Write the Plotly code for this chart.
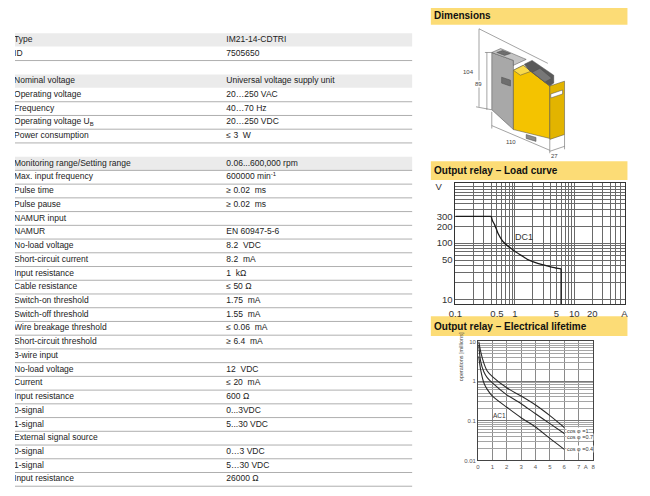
import math
import plotly.graph_objects as go

W, H = 650, 496
OFF = 8  # the page body margin shifts the figure by this many pixels
FONT = "Liberation Sans"

# ---- spec table ----
spec_labels = [
    "Type", "ID", "",
    "Nominal voltage", "Operating voltage", "Frequency",
    "Operating voltage U<sub>B</sub>", "Power consumption", "",
    "Monitoring range/Setting range", "Max. input frequency", "Pulse time", "Pulse pause",
    "NAMUR input", "NAMUR", "No-load voltage", "Short-circuit current", "Input resistance",
    "Cable resistance", "Switch-on threshold", "Switch-off threshold",
    "Wire breakage threshold", "Short-circuit threshold", "3-wire input",
    "No-load voltage", "Current", "Input resistance", "0-signal", "1-signal",
    "External signal source", "0-signal", "1-signal", "Input resistance",
]
spec_values = [
    "IM21-14-CDTRI", "7505650", "",
    "Universal voltage supply unit", "20…250 VAC", "40…70 Hz",
    "20…250 VDC", "≤ 3\u00a0 W", "",
    "0.06...600,000 rpm", "600000 min<sup>-1</sup>", "≥ 0.02\u00a0 ms", "≥ 0.02\u00a0 ms",
    "", "EN 60947-5-6", "8.2\u00a0 VDC", "8.2\u00a0 mA", "1\u00a0 kΩ",
    "≤ 50 Ω", "1.75\u00a0 mA", "1.55\u00a0 mA",
    "≤ 0.06\u00a0 mA", "≥ 6.4\u00a0 mA", "",
    "12\u00a0 VDC", "≤ 20\u00a0 mA", "600 Ω", "0...3VDC", "5...30 VDC",
    "", "0…3 VDC", "5…30 VDC", "26000 Ω",
]
shaded_rows = [0, 3, 9]
ruled_rows = [1, 4, 5, 6, 7] + list(range(9, 33))

# ---- output relay: load curve (DC1) ----
load_current = [0.1, 0.4, 0.42, 0.46, 0.52, 0.63, 0.8, 1.0, 1.3, 1.65, 2.0, 3.0, 4.0, 5.0, 6.0, 6.0]
load_voltage = [300, 300, 250, 209, 150, 107, 85, 72, 60, 51, 47, 41, 38, 36, 35, 8]
load_x_ticks = [0.1, 0.5, 1, 5, 10, 20, 70]
load_x_text = ["0.1", "0.5", "1", "5", "10", "20", "A"]
load_y_ticks = [10, 50, 100, 200, 300, 1000]
load_y_text = ["10", "50", "100", "200", "300", "V\u00a0\u00a0\u00a0\u00a0"]

# ---- output relay: electrical lifetime ----
life_current = [0.05, 0.18, 0.41, 0.64, 1, 2, 3, 4, 5, 6]
life_ops_cos1 = [10, 5.6, 2.8, 1.8, 1.3, 0.68, 0.42, 0.25, 0.135, 0.068]
life_ops_cos07 = [8.2, 3.2, 1.7, 1.23, 0.9, 0.45, 0.27, 0.15, 0.085, 0.048]
life_ops_cos04 = [4.2, 1.95, 0.9, 0.62, 0.42, 0.22, 0.12, 0.07, 0.036, 0.019]
life_labels = ["cos φ =1", "cos φ =0.7", "cos φ =0.4"]
life_label_y = [0.055, 0.040, 0.0195]
life_x_ticks = [0, 1, 2, 3, 4, 5, 6, 7, 7.5, 8]
life_x_text = ["0", "1", "2", "3", "4", "5", "6", "7", "A", "8"]
life_y_ticks = [0.01, 0.1, 1, 10]
life_y_text = ["0.01", "0.1", "1", "10"]

# ---- dimensions drawing labels ----
dim_labels = ["104", "89", "110", "27"]


def pxx(x):
    return (x - OFF) / W


def pxy(y):
    return 1 - (y - OFF) / H


def log_grid(lo, hi):
    vals = [d * 10 ** e for e in range(-3, 4) for d in range(1, 10)]
    return [v for v in vals if lo * 0.999 <= v <= hi * 1.001]


fig = go.Figure()

# table (x in screen px, y in row index)
row_pitch = 13.9
first_row = 37.3
fig.add_trace(go.Bar(x=[404] * len(shaded_rows), y=shaded_rows, base=8, orientation="h",
                     width=0.97, marker=dict(color="#ebebeb", line_width=0),
                     xaxis="x3", yaxis="y3", hoverinfo="skip"))
lx, ly = [], []
for r in ruled_rows:
    lx += [8, 412, None]
    ly += [r + 0.5, r + 0.5, None]
fig.add_trace(go.Scatter(x=lx, y=ly, mode="lines", line=dict(color="#9a9a9a", width=0.8),
                         xaxis="x3", yaxis="y3", hoverinfo="skip"))
for col_x, col in ((7, spec_labels), (223, spec_values)):
    rows = [i for i, t in enumerate(col) if t]
    fig.add_trace(go.Scatter(x=[col_x] * len(rows), y=rows, text=[col[i] for i in rows],
                             mode="text", textposition="middle right",
                             textfont=dict(family=FONT, size=8.5, color="#222"),
                             xaxis="x3", yaxis="y3", hoverinfo="skip"))

# load curve: flat part, curved part, vertical cut-off
knee, cut = 1, len(load_current) - 2
for a, b, shape in ((0, knee + 1, "linear"), (knee, cut + 1, "spline"), (cut, cut + 2, "linear")):
    fig.add_trace(go.Scatter(x=load_current[a:b], y=load_voltage[a:b], mode="lines",
                             line=dict(color="#1a1a1a", width=1.3, shape=shape, smoothing=0.6),
                             xaxis="x", yaxis="y", hoverinfo="skip"))

# lifetime curves
for ops in (life_ops_cos1, life_ops_cos07, life_ops_cos04):
    fig.add_trace(go.Scatter(x=life_current, y=ops, mode="lines",
                             line=dict(color="#2a2a2a", width=1.1, shape="spline", smoothing=0.7),
                             xaxis="x2", yaxis="y2", hoverinfo="skip"))

shapes = []
annotations = []

# yellow section headers
headers = [("Dimensions", 3, 22), ("Output relay – Load curve", 160, 179),
           ("Output relay – Electrical lifetime", 317, 337)]
for text, y0, y1 in headers:
    shapes.append(dict(type="rect", xref="paper", yref="paper", x0=pxx(431), x1=pxx(631),
                       y0=pxy(y1), y1=pxy(y0), fillcolor="#fcdc76", line_width=0, layer="below"))
    annotations.append(dict(text="<b>%s</b>" % text, xref="paper", yref="paper",
                            x=pxx(432), y=pxy((y0 + y1) / 2), xanchor="left", yanchor="middle",
                            showarrow=False, font=dict(family=FONT, size=10, color="#111")))


# device sketch (decoration, screen px)
def poly(points, fill, line="#4a4a4a"):
    d = "M " + " L ".join("%.5f,%.5f" % (pxx(x), pxy(y)) for x, y in points) + " Z"
    shapes.append(dict(type="path", xref="paper", yref="paper", path=d, fillcolor=fill,
                       line=dict(color=line, width=0.5)))


def seg(x0, y0, x1, y1):
    shapes.append(dict(type="line", xref="paper", yref="paper", x0=pxx(x0), y0=pxy(y0),
                       x1=pxx(x1), y1=pxy(y1), line=dict(color="#666", width=0.6)))


poly([(493, 50), (515, 58), (515, 128), (493, 108)], "#a8a8a8")
poly([(493, 50), (502, 46), (528, 57), (515, 63), (515, 58)], "#c4c4c4")
poly([(498, 50), (504, 48), (512, 51), (506, 53)], "#6e6e6e")
poly([(503, 75), (512, 78), (512, 84), (503, 81)], "#6e6e6e")
poly([(515, 68), (525, 63), (552, 84), (552, 137), (515, 128)], "#f4c300")
poly([(515, 68), (525, 63), (533, 69), (522, 73)], "#f9d94a")
poly([(526, 62), (534, 58), (556, 73), (556, 81), (552, 84), (531, 68)], "#5a5a5a")
poly([(534, 70), (542, 66), (554, 76), (547, 80)], "#777777")
poly([(552, 84), (567, 79), (567, 133), (552, 138)], "#e2b400")
poly([(553, 92), (565, 88), (565, 92), (553, 96)], "#ffffff")
poly([(528, 133), (538, 136), (538, 140), (528, 137)], "#8a8a8a")

seg(480, 26, 550, 61)
seg(480, 26, 480, 105)
seg(477, 105, 493, 108)
seg(488, 50, 488, 108)
seg(486, 50, 493, 50)
seg(493, 110, 493, 127)
seg(552, 138, 552, 152)
seg(567, 133, 567, 148)
seg(493, 124, 552, 149)
seg(552, 150, 567, 145)
dim_pos = [(476, 66), (484, 78), (519, 137), (561, 151)]
for lbl, (x, y) in zip(dim_labels, dim_pos):
    annotations.append(dict(text=lbl, xref="paper", yref="paper", x=pxx(x), y=pxy(y),
                            showarrow=False, bgcolor="white", borderpad=0,
                            font=dict(family=FONT, size=6, color="#444")))

# chart labels
annotations.append(dict(text="DC1", xref="x", yref="y", x=math.log10(1.42), y=math.log10(127),
                        showarrow=False, font=dict(family=FONT, size=9, color="#333")))
annotations.append(dict(text="AC1", xref="x2", yref="y2", x=1.5, y=math.log10(0.14),
                        showarrow=False, font=dict(family=FONT, size=6.5, color="#333")))
for lbl, yv in zip(life_labels, life_label_y):
    annotations.append(dict(text=lbl, xref="x2", yref="y2", x=6.12, y=math.log10(yv),
                            xanchor="left", showarrow=False, bgcolor="white", borderpad=0,
                            font=dict(family=FONT, size=5.5, color="#333")))
annotations.append(dict(text="operations [millions]", xref="paper", yref="paper",
                        x=pxx(467), y=pxy(385), textangle=-90, showarrow=False,
                        font=dict(family=FONT, size=5.5, color="#444")))

tick_load = dict(family=FONT, size=9.5, color="#333")
tick_life = dict(family=FONT, size=6, color="#555")

fig.update_layout(
    width=W, height=H,
    margin=dict(l=0, r=0, t=0, b=0),
    paper_bgcolor="white",
    plot_bgcolor="rgba(0,0,0,0)",
    showlegend=False,
    shapes=shapes,
    annotations=annotations,
    xaxis=dict(type="log", domain=[pxx(456), pxx(628)], range=[-1, math.log10(70)],
               tickmode="array", tickvals=load_x_ticks, ticktext=load_x_text,
               showgrid=True, gridcolor="#6a6a6a", gridwidth=0.7,
               minor=dict(tickmode="array", tickvals=log_grid(0.1, 70), showgrid=True,
                          gridcolor="#6a6a6a", gridwidth=0.7, ticks=""),
               showline=True, mirror=True, linecolor="#333", linewidth=1,
               ticks="", tickfont=tick_load, zeroline=False, anchor="y"),
    yaxis=dict(type="log", domain=[pxy(305), pxy(182)],
               range=[0.912, 3.07],
               tickmode="array", tickvals=load_y_ticks, ticktext=load_y_text,
               showgrid=True, gridcolor="#6a6a6a", gridwidth=0.7,
               minor=dict(tickmode="array", tickvals=log_grid(10, 1000), showgrid=True,
                          gridcolor="#6a6a6a", gridwidth=0.7, ticks=""),
               showline=True, mirror=True, linecolor="#333", linewidth=1,
               ticks="", tickfont=tick_load, zeroline=False, anchor="x"),
    xaxis2=dict(domain=[pxx(479), pxx(596)], range=[0, 8],
                tickmode="array", tickvals=life_x_ticks, ticktext=life_x_text,
                showgrid=False,
                minor=dict(tickmode="array", tickvals=list(range(0, 9)), showgrid=True,
                           gridcolor="#8a8a8a", gridwidth=0.6, ticks=""),
                showline=True, mirror=True, linecolor="#444", linewidth=0.8,
                ticks="", tickfont=tick_life, zeroline=False, anchor="y2"),
    yaxis2=dict(type="log", domain=[pxy(463), pxy(342.5)], range=[-2, 1],
                tickmode="array", tickvals=life_y_ticks, ticktext=life_y_text,
                showgrid=True, gridcolor="#777", gridwidth=0.7,
                minor=dict(tickmode="array", tickvals=log_grid(0.01, 10), showgrid=True,
                           gridcolor="#a5a5a5", gridwidth=0.5, ticks=""),
                showline=True, mirror=True, linecolor="#444", linewidth=0.8,
                ticks="", tickfont=tick_life, zeroline=False, anchor="x2"),
    xaxis3=dict(domain=[0, pxx(420 + OFF)], range=[OFF, 420 + OFF], visible=False, anchor="y3"),
    yaxis3=dict(domain=[0, 1],
                range=[(H + OFF - first_row) / row_pitch, (OFF - first_row) / row_pitch],
                visible=False, anchor="x3"),
)

fig.write_html("out.html")
